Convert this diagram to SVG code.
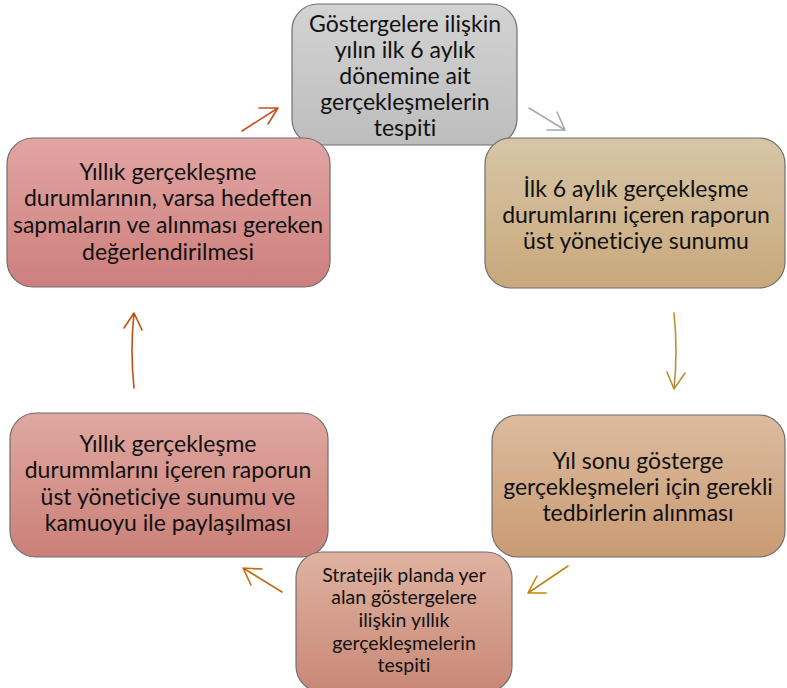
<svg xmlns="http://www.w3.org/2000/svg" width="787" height="688" viewBox="0 0 787 688">
<defs>
<linearGradient id="gGray" x1="0" y1="0" x2="0" y2="1"><stop offset="0" stop-color="#d3d3d3"/><stop offset="1" stop-color="#bdbdbd"/></linearGradient>
<linearGradient id="gTan" x1="0" y1="0" x2="0" y2="1"><stop offset="0" stop-color="#d7c6a6"/><stop offset="1" stop-color="#c9a87c"/></linearGradient>
<linearGradient id="gTan2" x1="0" y1="0" x2="0" y2="1"><stop offset="0" stop-color="#dcbb9e"/><stop offset="1" stop-color="#c99b73"/></linearGradient>
<linearGradient id="gRose" x1="0" y1="0" x2="0" y2="1"><stop offset="0" stop-color="#dfb2a0"/><stop offset="1" stop-color="#c98876"/></linearGradient>
<linearGradient id="gPink1" x1="0" y1="0" x2="0" y2="1"><stop offset="0" stop-color="#dfa8a0"/><stop offset="1" stop-color="#cb8078"/></linearGradient>
<linearGradient id="gPink2" x1="0" y1="0" x2="0" y2="1"><stop offset="0" stop-color="#e1a5a3"/><stop offset="1" stop-color="#cd7f7c"/></linearGradient>
</defs>
<style>
.box{stroke:#6f6f6f;stroke-width:1.2}
.t{font-family:Lato,"Open Sans","DejaVu Sans",sans-serif;font-size:23px;fill:#111;text-anchor:middle;font-variant-ligatures:none;font-feature-settings:"liga" 0,"clig" 0}
.ts{font-size:19.5px}
.c{fill:none;stroke-width:1.6;stroke-linecap:round;stroke-linejoin:round}
</style>
<g id="node-top">
<rect class="box" x="292" y="4" width="225" height="141" rx="26" fill="url(#gGray)"/>
<text class="t" x="405" y="32">Göstergelere ilişkin</text>
<text class="t" x="405" y="58">yılın ilk 6 aylık</text>
<text class="t" x="405" y="84">dönemine ait</text>
<text class="t" x="405" y="110">gerçekleşmelerin</text>
<text class="t" x="405" y="136">tespiti</text>
</g>
<g id="node-right-top">
<rect class="box" x="485" y="138" width="300" height="150" rx="26" fill="url(#gTan)"/>
<text class="t" x="636" y="197">İlk 6 aylık gerçekleşme</text>
<text class="t" x="636" y="223">durumlarını içeren raporun</text>
<text class="t" x="636" y="249">üst yöneticiye sunumu</text>
</g>
<g id="node-right-bottom">
<rect class="box" x="492" y="415" width="293" height="142" rx="26" fill="url(#gTan2)"/>
<text class="t" x="638" y="469">Yıl sonu gösterge</text>
<text class="t" x="638" y="495">gerçekleşmeleri için gerekli</text>
<text class="t" x="638" y="521">tedbirlerin alınması</text>
</g>
<g id="node-left-bottom">
<rect class="box" x="10" y="413" width="318" height="144" rx="26" fill="url(#gPink1)"/>
<text class="t" x="168" y="452">Yıllık gerçekleşme</text>
<text class="t" x="168" y="478">durummlarını içeren raporun</text>
<text class="t" x="168" y="505">üst yöneticiye sunumu ve</text>
<text class="t" x="168" y="531">kamuoyu ile paylaşılması</text>
</g>
<g id="node-bottom">
<rect class="box" x="296" y="552" width="216" height="140" rx="26" fill="url(#gRose)"/>
<text class="t ts" x="404" y="582">Stratejik planda yer</text>
<text class="t ts" x="404" y="604">alan göstergelere</text>
<text class="t ts" x="404" y="627">ilişkin yıllık</text>
<text class="t ts" x="404" y="650">gerçekleşmelerin</text>
<text class="t ts" x="404" y="672">tespiti</text>
</g>
<g id="node-left-top">
<rect class="box" x="7" y="138" width="323" height="149" rx="26" fill="url(#gPink2)"/>
<text class="t" x="168" y="180">Yıllık gerçekleşme</text>
<text class="t" x="168" y="206">durumlarının, varsa hedeften</text>
<text class="t" x="168" y="233">sapmaların ve alınması gereken</text>
<text class="t" x="168" y="260">değerlendirilmesi</text>
</g>
<g id="connectors">
<path class="c" stroke="#c4501a" d="M242 131 L278 108 M259 108 L278 108 L268 124"/>
<path class="c" stroke="#a8a8a8" d="M529 108 L565 130 M547 130 L565 130 L557 112"/>
<path class="c" stroke="#b8913c" d="M674 313 Q678 351 674 389 M667 372 L674 389 L685 373"/>
<path class="c" stroke="#c0870f" d="M568 566 L528 593 M546 593 L528 593 L537 576"/>
<path class="c" stroke="#c46a12" d="M282 592 L243 568 M262 569 L243 568 L251 585"/>
<path class="c" stroke="#c05010" d="M134 388 Q130 350 134 313 M124 328 L134 313 L142 330"/>
</g>
</svg>
